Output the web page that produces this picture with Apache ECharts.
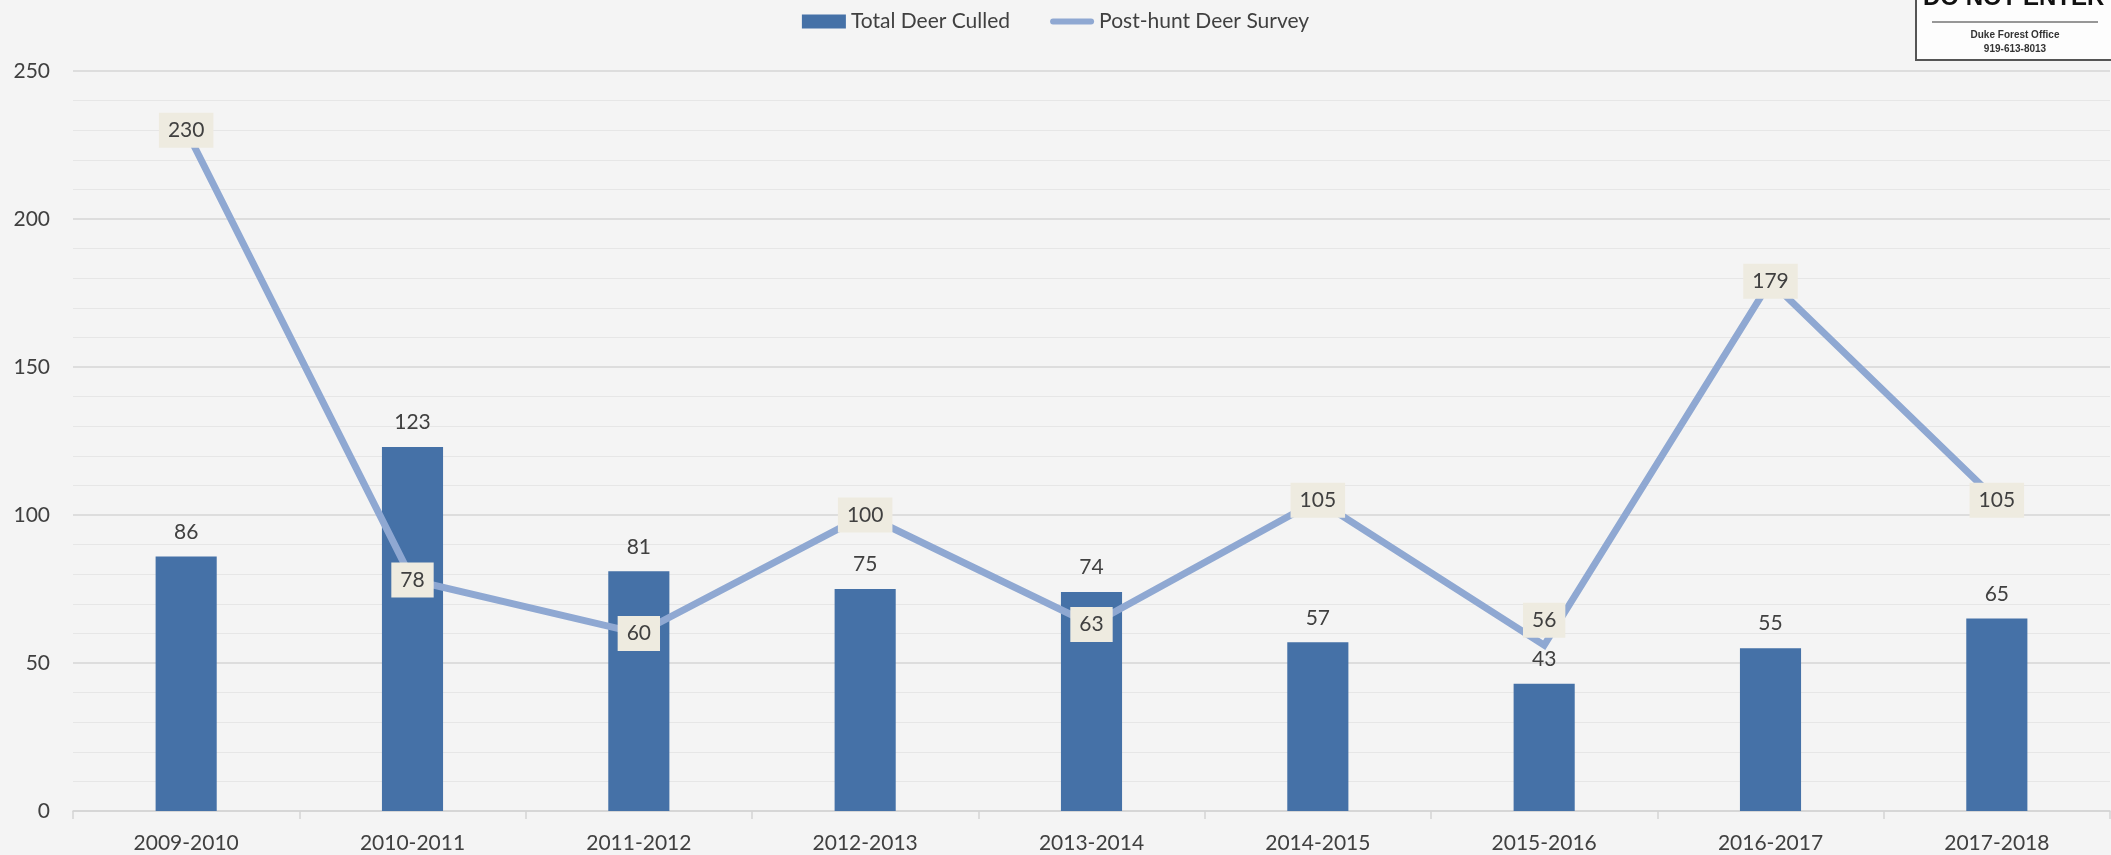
<!DOCTYPE html>
<html>
<head>
<meta charset="utf-8">
<script src="https://cdn.jsdelivr.net/npm/echarts@6/dist/echarts.min.js"></script>
<style>
  html, body { margin: 0; padding: 0; background: #f4f4f4; }
  #chart { width: 2111px; height: 855px; }
</style>
</head>
<body>
<div id="chart"></div>
<script>
// seasons on the x axis
const seasons = ['2009-2010', '2010-2011', '2011-2012', '2012-2013', '2013-2014',
  '2014-2015', '2015-2016', '2016-2017', '2017-2018']
// bars
const deerCulled = [86, 123, 81, 75, 74, 57, 43, 55, 65]
// line
const postHuntSurvey = [230, 78, 60, 100, 63, 105, 56, 179, 105]

const font = 'Lato, "Open Sans", sans-serif'
const textColor = '#404040'
const signFont = '"Liberation Sans", Arial, sans-serif'

const chart = echarts.init(document.getElementById('chart'))
chart.setOption({
  backgroundColor: '#f4f4f4',
  animation: false,
  textStyle: { fontFamily: font },
  legend: {
    top: 6,
    left: 'center',
    itemGap: 40,
    itemWidth: 44,
    itemHeight: 14,
    textStyle: { fontSize: 21, color: textColor, fontFamily: font },
    data: [
      { name: 'Total Deer Culled', icon: 'rect' },
      { name: 'Post-hunt Deer Survey', icon: 'path://M3,0 H41 A3,3 0 0 1 41,6 H3 A3,3 0 0 1 3,0 Z' }
    ]
  },
  grid: { left: 73, right: 1, top: 71, bottom: 44 },
  xAxis: {
    type: 'category',
    data: seasons,
    axisLine: { lineStyle: { color: '#d4d4d4', width: 1.5 } },
    axisTick: { show: true, length: 8, lineStyle: { color: '#d4d4d4', width: 1.5 } },
    axisLabel: { fontSize: 21, color: textColor, margin: 22, fontFamily: font }
  },
  yAxis: {
    type: 'value',
    min: 0,
    max: 250,
    interval: 50,
    axisLine: { show: false },
    axisTick: { show: false },
    axisLabel: { fontSize: 21, color: textColor, margin: 23, fontFamily: font },
    splitLine: { lineStyle: { color: '#d6d6d6', width: 1.5 } },
    minorTick: { show: false, splitNumber: 5 },
    minorSplitLine: { show: true, lineStyle: { color: '#e6e6e6', width: 1.2 } }
  },
  series: [
    {
      name: 'Total Deer Culled',
      type: 'bar',
      data: deerCulled,
      barWidth: '27%',
      itemStyle: { color: '#4571a7' },
      label: {
        show: true,
        position: 'top',
        distance: 14,
        fontSize: 21,
        color: textColor,
        fontFamily: font
      },
      z: 2
    },
    {
      name: 'Post-hunt Deer Survey',
      type: 'line',
      // the 56 label sits a little above its point in the original
      data: postHuntSurvey.map((v, i) => i === 6 ? { value: v, label: { offset: [0, -25] } } : v),
      symbol: 'circle',
      symbolSize: 1,
      itemStyle: { color: '#8fa8d2' },
      lineStyle: { color: '#8fa8d2', width: 7, join: 'miter' },
      label: {
        show: true,
        position: 'inside',
        fontSize: 21,
        color: textColor,
        fontFamily: font,
        backgroundColor: '#eeebe0',
        padding: [8, 9, 6, 9]
      },
      z: 3
    }
  ],
  graphic: [
    { type: 'rect', shape: { x: 1916, y: -5, width: 200, height: 65 },
      style: { fill: '#fdfdfd', stroke: '#555555', lineWidth: 2 }, z: 10 },
    { type: 'text', x: 1923, y: 10, z: 11,
      style: { text: 'DO NOT ENTER', font: 'bold 24px ' + signFont,
        fill: '#111111', align: 'left', verticalAlign: 'bottom' } },
    { type: 'line', shape: { x1: 1932, y1: 22, x2: 2098, y2: 22 }, z: 11,
      style: { stroke: '#333333', lineWidth: 1.2 } },
    { type: 'text', x: 2015, y: 35, z: 11,
      style: { text: 'Duke Forest Office', font: 'bold 10px ' + signFont,
        fill: '#333333', align: 'center', verticalAlign: 'middle' } },
    { type: 'text', x: 2015, y: 49, z: 11,
      style: { text: '919-613-8013', font: 'bold 10px ' + signFont,
        fill: '#333333', align: 'center', verticalAlign: 'middle' } }
  ]
})
window.addEventListener('resize', () => chart.resize())
</script>
</body>
</html>
